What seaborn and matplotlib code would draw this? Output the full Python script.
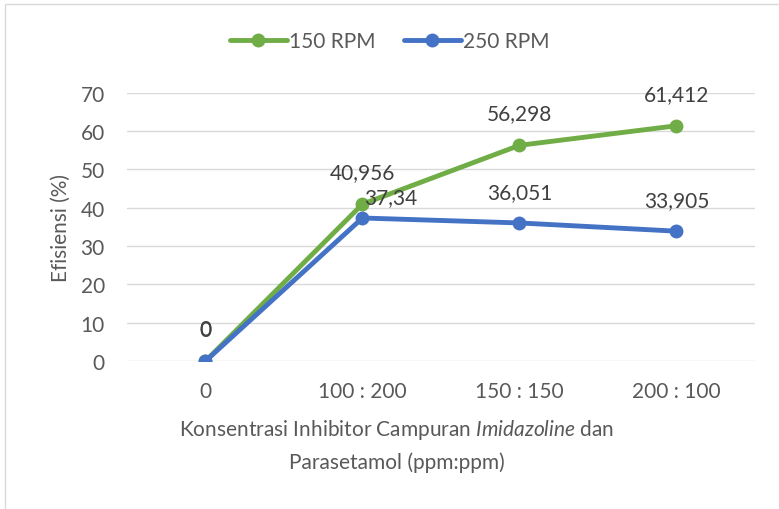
import pandas as pd
import matplotlib.pyplot as plt
import seaborn as sns
from matplotlib.patches import Rectangle

categories = ['0', '100 : 200', '150 : 150', '200 : 100']
rpm150 = [0, 40.956, 56.298, 61.412]
rpm250 = [0, 37.34, 36.051, 33.905]
series_names = ['150 RPM', '250 RPM']

GREEN = '#70AD47'
BLUE = '#4472C4'
TEXT = '#595959'
LABEL = '#404040'
FS = 15


def fmt(v):
    return f"{v:g}".replace('.', ',')


def main():
    df = pd.DataFrame({
        'Konsentrasi': categories * 2,
        'Efisiensi': rpm150 + rpm250,
        'Series': [series_names[0]] * 4 + [series_names[1]] * 4,
    })

    sns.set_theme(style="white")
    plt.rcParams['font.family'] = ['Lato', 'DejaVu Sans']
    plt.rcParams['mathtext.fontset'] = 'custom'
    plt.rcParams['mathtext.rm'] = 'Lato'
    plt.rcParams['mathtext.it'] = 'Lato:italic'

    fig = plt.figure(figsize=(7.79, 5.10), dpi=100)
    ax = fig.add_axes([0.163, 0.290, 0.806, 0.526])

    sns.lineplot(data=df, x='Konsentrasi', y='Efisiensi', hue='Series',
                 palette=[GREEN, BLUE], marker='o', markersize=10,
                 markeredgewidth=0, linewidth=3.5, ax=ax, legend=True,
                 sort=False)

    ax.set_ylim(0, 70)
    ax.set_xlim(-0.5, 3.5)
    ax.set_yticks(range(0, 71, 10))
    ax.grid(axis='y', color='#D9D9D9', linewidth=1)
    ax.grid(axis='x', visible=False)
    for s in ax.spines.values():
        s.set_visible(False)
    ax.tick_params(axis='both', length=0, labelsize=FS, labelcolor=TEXT)
    ax.tick_params(axis='x', pad=14)
    ax.tick_params(axis='y', pad=16)

    ax.set_ylabel('Efisiensi (%)', fontsize=FS, color=TEXT, labelpad=7)
    ax.set_xlabel('Konsentrasi Inhibitor Campuran $\\it{Imidazoline}$ dan\nParasetamol (ppm:ppm)',
                  fontsize=FS, color=TEXT, linespacing=1.6)
    # Excel centres the axis title on the chart area, not on the plot area
    ax.xaxis.set_label_coords(0.43, -0.21, transform=ax.transAxes)
    ax.xaxis.label.set_va('top')

    # data labels
    for i, v in enumerate(rpm150):
        ax.annotate(fmt(v), (i, v), xytext=(0, 32), textcoords='offset pixels',
                    ha='center', va='center', fontsize=FS, color=LABEL)
    for i, v in enumerate(rpm250):
        dx = 28 if i == 1 else 0
        dy = 21 if i == 1 else 31
        ax.annotate(fmt(v), (i, v), xytext=(dx, dy), textcoords='offset pixels',
                    ha='center', va='center', fontsize=FS, color=LABEL)

    handles, labels = ax.get_legend_handles_labels()
    ax.get_legend().remove()
    fig.legend(handles, labels, loc='center', bbox_to_anchor=(0.5, 1 - 42 / 510),
               ncol=2, frameon=False, fontsize=FS, labelcolor=TEXT,
               handlelength=2.75, handletextpad=0.1, columnspacing=1.35)

    fig.patches.append(Rectangle((5 / 779, -0.01), 1.0, 1 - 5 / 510 + 0.01,
                                 transform=fig.transFigure, fill=False,
                                 edgecolor='#D9D9D9', linewidth=1))

    fig.savefig('out.png', dpi=100)
    plt.close(fig)


if __name__ == "__main__":
    main()
